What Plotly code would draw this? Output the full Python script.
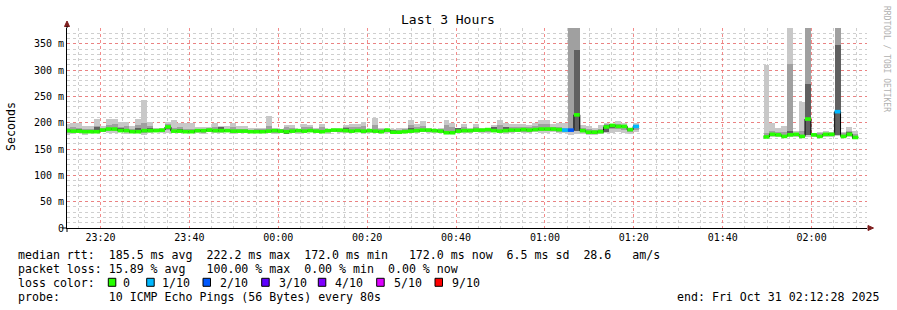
import plotly.graph_objects as go
import pandas as pd

# ---------------- data ----------------
STEP_S = 80
FIRST_BIN = "2025-10-30 23:11:51"
T_START = "2025-10-30 23:12:28"
T_END = "2025-10-31 02:12:28"

# segment 1 : 97 bins of 80 s (values in ms)
seg1_med = [185,184,184,183,183,183,186,188,188,185,
            185,183,183,185,185,185,186,192,184,184,
            183,183,185,185,186,185,185,185,184,184,
            184,183,183,183,184,185,184,183,184,185,
            184,185,184,183,185,186,186,185,184,185,
            184,185,184,183,186,182,182,183,184,185,
            186,186,185,184,181,181,184,185,185,186,
            186,187,185,184,185,186,186,187,186,187,
            188,188,188,187,186,186,215,185,182,182,
            183,192,195,193,193,187,193]
seg1_hi = [197,200,200,194,193,208,193,208,208,201,
           201,193,208,243,202,190,190,202,205,199,
           199,199,192,192,192,199,194,193,200,193,
           193,190,190,190,212,190,189,196,196,189,
           197,196,190,197,189,190,189,196,198,197,
           201,188,209,190,189,189,190,190,206,197,
           203,190,189,190,206,200,190,197,190,198,
           190,189,196,206,199,198,198,198,196,199,
           206,206,197,199,199,400,400,196,194,190,
           196,199,198,204,199,190,199]
seg1_lo = [177,179,181,176,181,180,182,180,181,182,
           179,182,181,177,180,182,181,180,182,181,
           180,182,181,179,182,181,180,182,178,181,
           182,181,180,182,181,179,180,182,181,179,
           181,182,180,181,179,182,181,180,181,182,
           178,181,180,182,181,179,182,181,180,181,
           182,180,181,182,181,180,182,181,180,182,
           181,180,182,181,179,181,182,180,181,182,
           181,180,182,181,180,176,178,179,177,176,
           179,181,180,182,180,179,182]
seg1_qhi = [190,192,190,189,188,194,190,196,197,192,
            193,188,195,200,193,188,189,197,190,191,
            189,188,189,189,190,192,190,189,191,189,
            189,187,188,188,194,188,188,191,190,188,
            191,191,188,191,188,189,188,191,192,191,
            193,187,196,188,188,187,187,188,196,191,
            194,189,188,188,195,192,189,192,188,192,
            189,189,191,195,192,192,191,192,191,193,
            197,197,192,192,190,400,400,190,188,187,
            189,197,197,198,196,189,196]
seg1_qlo = [181,182,182,180,181,181,183,184,184,183,
            182,181,181,181,182,183,183,186,182,182,
            181,182,182,181,183,183,182,183,181,182,
            182,182,181,182,182,181,182,182,182,182,
            182,183,182,182,182,183,183,182,182,183,
            181,183,182,182,183,180,180,182,182,183,
            183,183,182,182,179,179,182,183,182,183,
            183,183,183,182,182,183,183,183,183,184,
            184,184,184,183,183,182,184,182,179,179,
            181,186,188,188,187,183,186]
seg1_dhi = [187,186,189,185,185,192,188,190,190,190,
            187,185,190,187,190,187,188,194,186,189,
            185,185,187,188,188,187,191,187,186,186,
            186,185,186,185,186,189,186,185,186,187,
            186,187,186,185,189,188,188,190,186,187,
            186,187,186,185,188,186,184,185,190,187,
            188,188,187,186,183,183,190,187,187,188,
            188,189,191,186,191,188,188,189,188,189,
            190,190,190,189,188,188,338,187,184,184,
            185,195,197,195,195,189,195]
seg1_dlo = [183,182,182,181,181,181,184,186,186,183,
            183,181,181,183,183,183,184,188,182,182,
            181,181,183,183,184,183,183,183,182,182,
            182,181,181,181,182,183,182,179,182,183,
            182,183,182,181,183,184,184,183,182,183,
            182,183,182,181,184,180,180,181,182,183,
            184,184,183,182,179,179,182,183,183,184,
            184,185,183,182,183,184,184,185,184,185,
            186,186,186,185,184,184,185,183,180,180,
            181,183,190,191,191,185,191]
seg1_loss = [0,0,0,0,0,0,0,0,0,0,
             0,0,0,0,0,0,0,0,0,0,
             0,0,0,0,0,0,0,0,0,0,
             0,0,0,0,0,0,0,0,0,0,
             0,0,0,0,0,0,0,0,0,0,
             0,0,0,0,0,0,0,0,0,0,
             0,0,0,0,0,0,0,0,0,0,
             0,0,0,0,0,0,0,0,0,0,
             0,0,0,0,1,2,0,0,0,0,
             0,0,0,0,0,0,1]

# 21 bins with 100 % loss (no rtt)
GAP_BINS = 21

# segment 2 : 16 bins
seg2_med = [173,178,177,174,177,178,174,207,177,174,178,178,221,174,178,172]
seg2_hi = [310,200,190,193,400,185,240,400,180,183,185,183,400,183,192,185]
seg2_lo = [171,172,173,172,173,173,172,173,173,172,173,173,174,172,173,171]
seg2_qhi = [180,185,183,182,312,181,185,400,179,180,180,179,400,180,184,178]
seg2_qlo = [172,174,175,173,175,175,173,176,175,173,175,175,176,173,175,171]
seg2_dhi = [175,180,179,176,185,180,176,274,179,176,180,180,348,176,182,174]
seg2_dlo = [171,176,175,172,175,176,172,176,175,172,176,176,176,172,176,170]
seg2_loss = [0,0,0,0,0,0,0,0,0,0,0,0,1,0,0,0]

loss_levels = [0, 1, 2, 3, 4, 5, 9]
loss_labels = ["0", "1/10", "2/10", "3/10", "4/10", "5/10", "9/10"]
loss_colors = ["#26ff00", "#00b8ff", "#0059ff", "#5e00ff", "#7e00ff", "#dd00ff", "#ff0000"]

y_ticks = [0, 50, 100, 150, 200, 250, 300, 350]
y_ticktext = ["0", "50 m", "100 m", "150 m", "200 m", "250 m", "300 m", "350 m"]

stats_rows = [
    "median rtt:  185.5 ms avg  222.2 ms max  172.0 ms min   172.0 ms now  6.5 ms sd  28.6   am/s",
    "packet loss: 15.89 % avg   100.00 % max  0.00 % min  0.00 % now",
    "loss color:",
    "probe:       10 ICMP Echo Pings (56 Bytes) every 80s",
]
end_text = "end: Fri Oct 31 02:12:28 2025"
title_text = "Last 3 Hours"

# ---------------- assemble ----------------
def full(a, b):
    return a + [None] * GAP_BINS + b + [None]

med = full(seg1_med, seg2_med)
hi = full(seg1_hi, seg2_hi)
lo = full(seg1_lo, seg2_lo)
qhi = full(seg1_qhi, seg2_qhi)
qlo = full(seg1_qlo, seg2_qlo)
dhi = full(seg1_dhi, seg2_dhi)
dlo = full(seg1_dlo, seg2_dlo)
loss = full(seg1_loss, seg2_loss)

n = len(med)
t0 = pd.Timestamp(FIRST_BIN)
starts = [t0 + pd.Timedelta(seconds=STEP_S * j) for j in range(n)]
centers = [s + pd.Timedelta(seconds=STEP_S / 2) for s in starts]
ends = [s + pd.Timedelta(seconds=STEP_S) for s in starts]
W = STEP_S * 1000

fig = go.Figure()

def band(low, high, color):
    fig.add_trace(go.Bar(
        x=centers, base=low,
        y=[(h - l) if (h is not None and l is not None) else None for l, h in zip(low, high)],
        width=W, marker=dict(color=color, line=dict(width=0)),
        hoverinfo="skip", showlegend=False))

band(lo, hi, "#c8c8c8")
band(qlo, qhi, "#a0a0a0")
band(dlo, dhi, "#606060")

# median step line (black)
lx, ly = [], []
for s, e, m in zip(starts, ends, med):
    lx += [s, e]
    ly += [m, m]
fig.add_trace(go.Scatter(x=lx, y=ly, mode="lines", line=dict(color="#000000", width=1),
                         connectgaps=False, hoverinfo="skip", showlegend=False))

# loss coloured median band (thick horizontal segments drawn above the black line)
for lvl, col in zip(loss_levels, loss_colors):
    sx, sy = [], []
    for s, e, m, l in zip(starts, ends, med, loss):
        if m is not None and l == lvl:
            sx += [s, e, None]
            sy += [m, m, None]
    if sx:
        fig.add_trace(go.Scatter(x=sx, y=sy, mode="lines", line=dict(color=col, width=3.6),
                                 connectgaps=False, hoverinfo="skip", showlegend=False))

MONO = "DejaVu Sans Mono"
L, R, T, B = 67, 30, 28, 82
PW, PH = 897 - L - R, 310 - T - B

def px(x):
    return (x - L) / PW

def py(y):
    return (T + PH - y) / PH

MAJOR_GRID = "rgba(240,110,110,0.8)"
MINOR_GRID = "#cfcfcf"

fig.update_layout(
    width=897, height=310, autosize=False,
    margin=dict(l=L, r=R, t=T, b=B, pad=0),
    paper_bgcolor="white", plot_bgcolor="white",
    barmode="overlay", bargap=0, showlegend=False,
    font=dict(family=MONO, size=10, color="#000000"),
)
fig.update_xaxes(
    type="date", range=[T_START, T_END],
    tick0="2025-10-30 23:20:00", dtick=20 * 60 * 1000, tickformat="%H:%M",
    showgrid=True, gridcolor=MAJOR_GRID, griddash="dot", gridwidth=1,
    minor=dict(dtick=5 * 60 * 1000, tick0="2025-10-30 23:15:00", showgrid=True,
               gridcolor=MINOR_GRID, griddash="dot", gridwidth=1),
    showline=True, linecolor="#000000", linewidth=1, zeroline=False,
    ticks="", tickfont=dict(family=MONO, size=10, color="#000000"),
)
fig.update_yaxes(
    range=[0, 380], tickvals=y_ticks, ticktext=y_ticktext,
    showgrid=True, gridcolor=MAJOR_GRID, griddash="dot", gridwidth=1,
    minor=dict(dtick=10, showgrid=True, gridcolor=MINOR_GRID, griddash="dot", gridwidth=1),
    showline=True, linecolor="#000000", linewidth=1, zeroline=False,
    ticks="", tickfont=dict(family=MONO, size=10, color="#000000"),
)

NB = "\u00a0"
ann = []
ann.append(dict(text=title_text, x=px(448), y=py(19), xref="paper", yref="paper",
                xanchor="center", yanchor="middle", showarrow=False,
                font=dict(family=MONO, size=13, color="#000000")))
ann.append(dict(text="Seconds", x=px(11), y=py(126), xref="paper", yref="paper",
                xanchor="center", yanchor="middle", textangle=-90, showarrow=False,
                font=dict(family=MONO, size=11.6, color="#000000")))
ann.append(dict(text="RRDTOOL / TOBI OETIKER", x=px(887), y=py(59), xref="paper", yref="paper",
                xanchor="center", yanchor="middle", textangle=90, showarrow=False,
                font=dict(family=MONO, size=8, color="#b0b0b0")))
row_y = [255, 269, 282.7, 296.7]
for txt, ry in zip(stats_rows, row_y):
    ann.append(dict(text=txt.replace(" ", NB), x=px(16), y=py(ry), xref="paper", yref="paper",
                    xanchor="left", yanchor="middle", showarrow=False,
                    font=dict(family=MONO, size=11.6, color="#000000")))
ann.append(dict(text=end_text.replace(" ", NB), x=px(881), y=py(row_y[3]), xref="paper", yref="paper",
                xanchor="right", yanchor="middle", showarrow=False,
                font=dict(family=MONO, size=11.6, color="#000000")))

box_x = [108.3, 146.7, 203, 261.7, 318.3, 376.7, 435]
lab_x = [121, 160, 218, 277, 333, 392, 450]
shapes = []
for bx, lx_, lab, col in zip(box_x, lab_x, loss_labels, loss_colors):
    shapes.append(dict(type="rect", xref="paper", yref="paper",
                       x0=px(bx), x1=px(bx + 7.5), y0=py(286.3), y1=py(278.3),
                       fillcolor=col, line=dict(color="#000000", width=1)))
    ann.append(dict(text=lab, x=px(lx_), y=py(row_y[2]), xref="paper", yref="paper",
                    xanchor="left", yanchor="middle", showarrow=False,
                    font=dict(family=MONO, size=11.6, color="#000000")))

ARROW = "#7f1f1f"
# y-axis arrow (top) and x-axis arrow (right)
shapes.append(dict(type="path", xref="paper", yref="paper",
                   path=f"M {px(64.5)} {py(26.5)} L {px(69.5)} {py(26.5)} L {px(67)} {py(21)} Z",
                   fillcolor=ARROW, line=dict(color=ARROW, width=1)))
shapes.append(dict(type="line", xref="paper", yref="paper",
                   x0=px(67), x1=px(67), y0=py(28), y1=py(26), line=dict(color="#000000", width=1)))
shapes.append(dict(type="path", xref="paper", yref="paper",
                   path=f"M {px(868)} {py(225.5)} L {px(868)} {py(230.5)} L {px(873.5)} {py(228)} Z",
                   fillcolor=ARROW, line=dict(color=ARROW, width=1)))
shapes.append(dict(type="line", xref="paper", yref="paper",
                   x0=px(62), x1=px(67), y0=py(228), y1=py(228), line=dict(color="#000000", width=1)))
shapes.append(dict(type="line", xref="paper", yref="paper",
                   x0=px(67), x1=px(67), y0=py(228), y1=py(232), line=dict(color="#000000", width=1)))

fig.update_layout(annotations=ann, shapes=shapes)
fig.write_html("out.html")
